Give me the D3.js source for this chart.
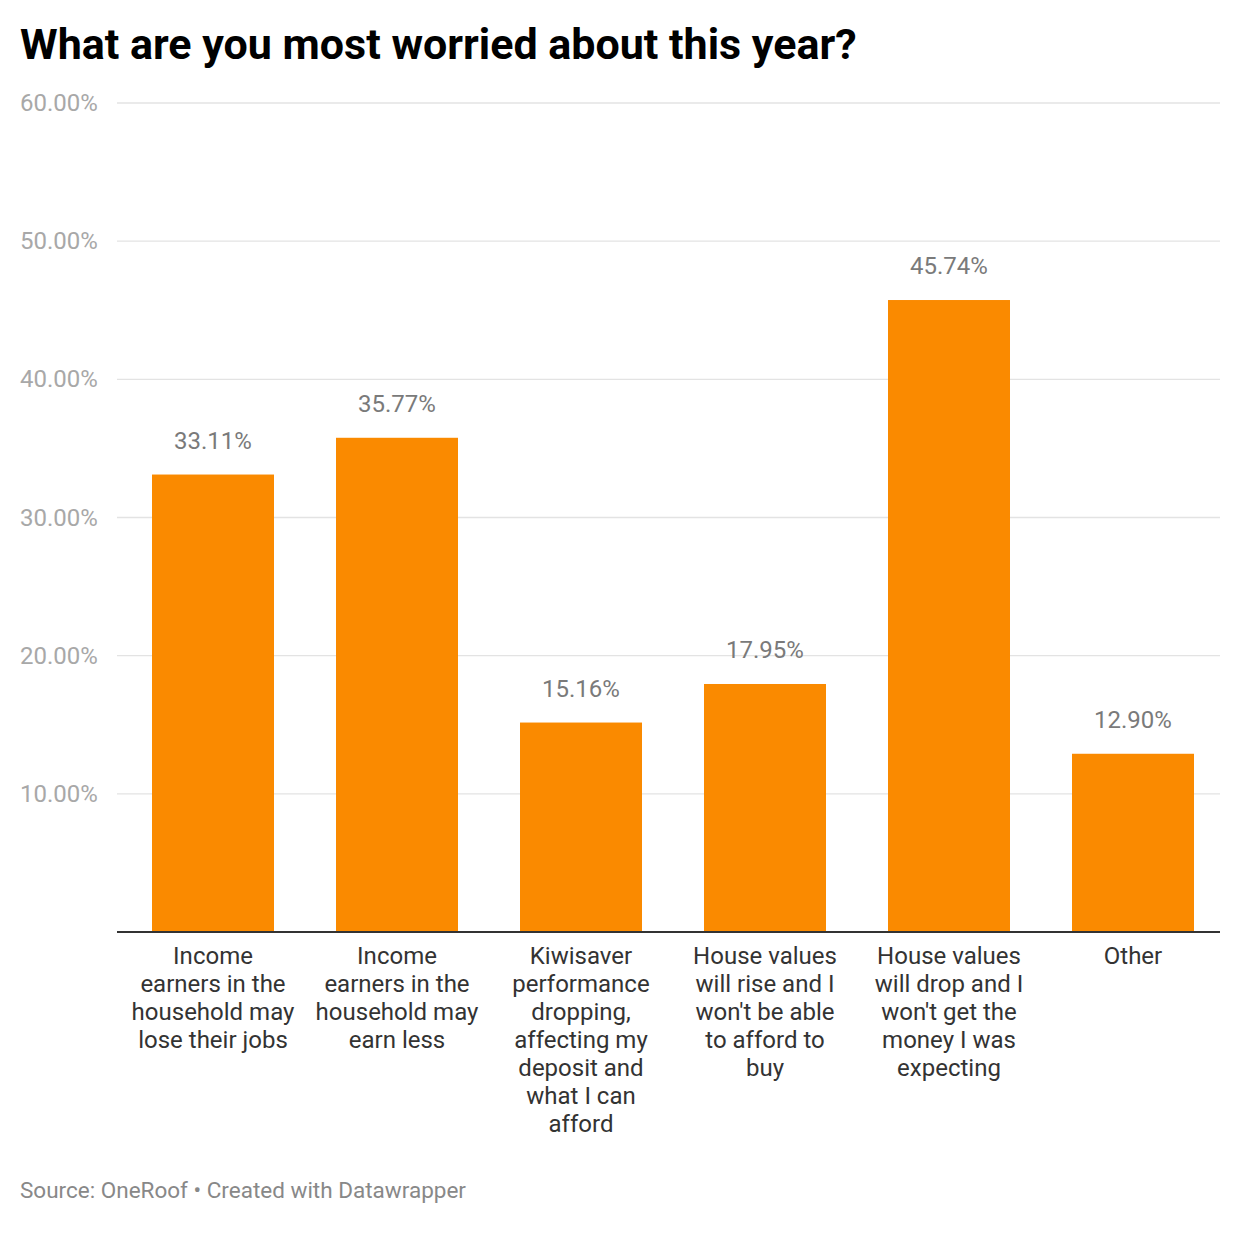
<!DOCTYPE html>
<html><head><meta charset="utf-8">
<script src="https://cdn.jsdelivr.net/npm/d3@7"></script>
<style>body{margin:0;background:#fff;font-family:Roboto,sans-serif}</style>
</head><body>
<svg id="c" width="1240" height="1240"></svg>
<script>
const title = "What are you most worried about this year?";
const categories = [
  "Income\nearners in the\nhousehold may\nlose their jobs",
  "Income\nearners in the\nhousehold may\nearn less",
  "Kiwisaver\nperformance\ndropping,\naffecting my\ndeposit and\nwhat I can\nafford",
  "House values\nwill rise and I\nwon't be able\nto afford to\nbuy",
  "House values\nwill drop and I\nwon't get the\nmoney I was\nexpecting",
  "Other"
];
const values = [33.11, 35.77, 15.16, 17.95, 45.74, 12.90];
const yTicks = [10, 20, 30, 40, 50, 60];
const footer = "Source: OneRoof • Created with Datawrapper";

const svg = d3.select("#c");
svg.append("rect").attr("width",1240).attr("height",1240).attr("fill","#fff");
svg.append("text").attr("x",20).attr("y",59).attr("font-size",43).attr("font-weight",700)
  .attr("fill","#000").text(title);

const y = d3.scaleLinear().domain([0,60]).range([932,103]);
const x = d3.scaleBand().domain(d3.range(categories.length)).range([121,1225])
  .paddingInner(0.337).paddingOuter(0.1685);

const g = svg.append("g");
g.selectAll("line.grid").data(yTicks).join("line").attr("class","grid")
  .attr("x1",117).attr("x2",1220).attr("y1",d=>y(d)).attr("y2",d=>y(d))
  .attr("stroke","#e3e3e3").attr("stroke-width",1.3);
g.selectAll("text.yt").data(yTicks).join("text").attr("class","yt")
  .attr("x",20).attr("y",d=>y(d)+8).attr("font-size",24)
  .attr("fill","#a8a8a8").text(d=>d3.format(".2f")(d)+"%");

g.selectAll("rect.bar").data(values).join("rect").attr("class","bar")
  .attr("x",(d,i)=>x(i)).attr("width",x.bandwidth())
  .attr("y",d=>y(d)).attr("height",d=>y(0)-y(d)).attr("fill","#fa8a00");

g.selectAll("text.vl").data(values).join("text").attr("class","vl")
  .attr("x",(d,i)=>x(i)+x.bandwidth()/2).attr("y",d=>y(d)-26)
  .attr("text-anchor","middle").attr("font-size",24)
  .attr("fill","#7a7a7a").text(d=>d3.format(".2f")(d)+"%");

g.append("line").attr("x1",117).attr("x2",1220).attr("y1",y(0)).attr("y2",y(0))
  .attr("stroke","#333").attr("stroke-width",2);

categories.forEach((c,i)=>{
  const t = g.append("text").attr("text-anchor","middle").attr("font-size",24)
    .attr("fill","#333");
  c.split("\n").forEach((ln,j)=>{
    t.append("tspan").attr("x",x(i)+x.bandwidth()/2).attr("y",964+j*28).text(ln);
  });
});

svg.append("text").attr("x",20).attr("y",1198).attr("font-size",22.5)
  .attr("fill","#888").text(footer);
</script>
</body></html>
